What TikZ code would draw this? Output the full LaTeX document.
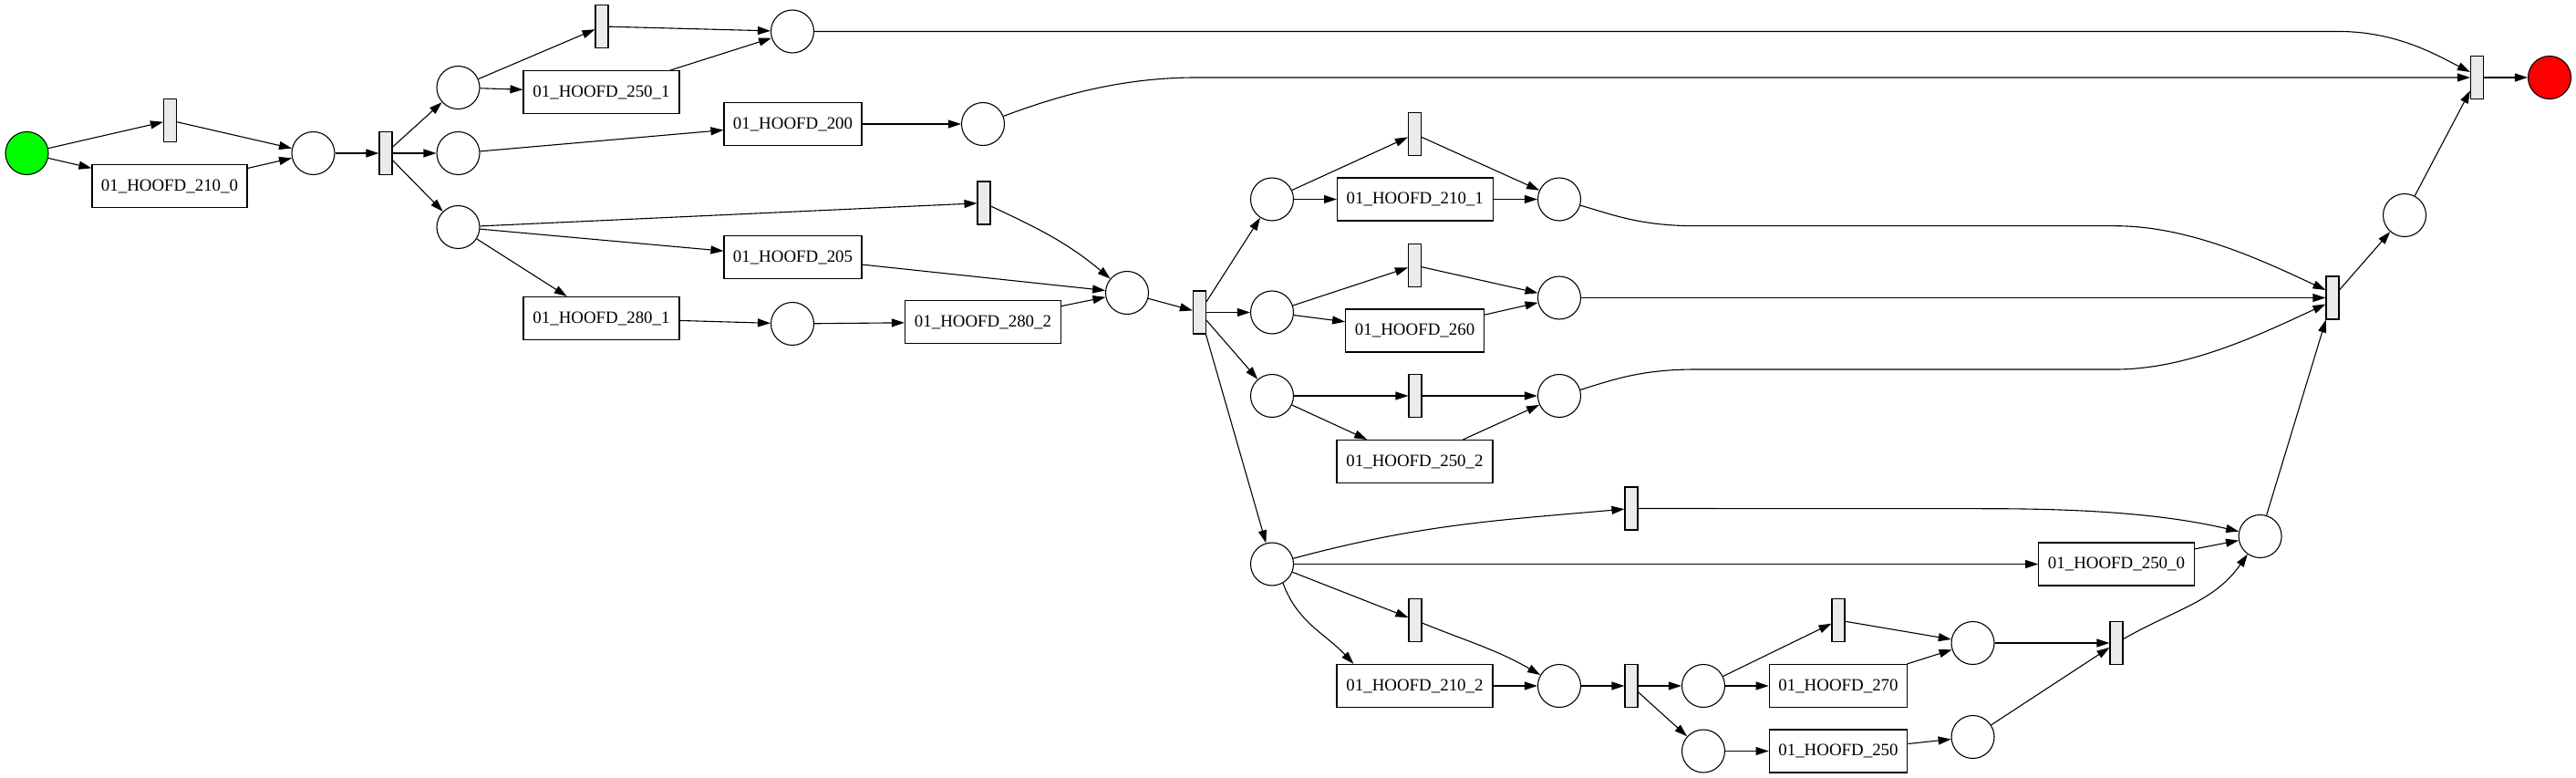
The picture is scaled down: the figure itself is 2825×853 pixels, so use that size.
\documentclass[tikz,border=0pt]{standalone}
\usepackage{fontspec}
\setmainfont{Liberation Serif}
\usetikzlibrary{arrows.meta}
\definecolor{tfill}{RGB}{235,235,235}
\definecolor{startg}{RGB}{0,255,0}
\definecolor{endr}{RGB}{255,0,0}
\begin{document}
\begin{tikzpicture}[x=1pt,y=1pt,
  place/.style={circle,draw,line width=1.1pt,minimum size=47pt,inner sep=0pt,fill=white},
  trans/.style={rectangle,draw,line width=1.1pt,fill=tfill,minimum width=14pt,minimum height=47pt,inner sep=0pt},
  act/.style={rectangle,draw,line width=1.1pt,fill=white,minimum height=47pt,inner sep=0pt,font=\fontsize{18.9}{22}\selectfont},
  arc/.style={line width=1.1pt,-{Triangle[length=14pt,width=9pt]}}]
\useasboundingbox (0,0) rectangle (2825,-853);
% nodes
\node[place,fill=startg] (start) at (29.5,-168) {};
\node[trans] (t1) at (186.5,-132) {};
\node[act,minimum width=170pt] (a2100) at (186,-204) {01\_HOOFD\_210\_0};
\node[place] (p1) at (343.5,-168) {};
\node[trans] (t2) at (423,-168) {};
\node[place] (p2) at (502.5,-96) {};
\node[place] (p3) at (502.5,-168) {};
\node[place] (p4) at (502.5,-249) {};
\node[trans] (t3) at (660,-29) {};
\node[act,minimum width=171pt] (a2501) at (659.5,-101) {01\_HOOFD\_250\_1};
\node[place] (p5) at (869,-34.5) {};
\node[act,minimum width=151pt] (a200) at (869.5,-136) {01\_HOOFD\_200};
\node[act,minimum width=151pt] (a205) at (869.5,-282) {01\_HOOFD\_205};
\node[act,minimum width=171pt] (a2801) at (659.5,-349) {01\_HOOFD\_280\_1};
\node[place] (p6) at (869,-355) {};
\node[place] (p7) at (1078,-136) {};
\node[trans] (t4) at (1079,-222.5) {};
\node[place] (p8) at (1236,-321) {};
\node[act,minimum width=171pt] (a2802) at (1078,-353) {01\_HOOFD\_280\_2};
\node[trans] (t5) at (1315.5,-342.5) {};
\node[place] (p9) at (1395,-218.5) {};
\node[trans] (t6) at (1551.5,-147) {};
\node[act,minimum width=170.5pt] (a2101) at (1551.8,-218.5) {01\_HOOFD\_210\_1};
\node[place] (p10) at (1710,-218.5) {};
\node[place] (p11) at (1395,-342.5) {};
\node[trans] (t7) at (1551.5,-291) {};
\node[act,minimum width=152pt] (a260) at (1551.6,-362.5) {01\_HOOFD\_260};
\node[place] (p12) at (1710,-326.5) {};
\node[place] (p14) at (1395,-434) {};
\node[trans] (t9) at (1552,-434) {};
\node[act,minimum width=171pt] (a2502) at (1551.5,-506) {01\_HOOFD\_250\_2};
\node[place] (p15) at (1710,-434) {};
\node[place] (p16) at (1395,-618.5) {};
\node[trans] (t10) at (1789,-557.5) {};
\node[act,minimum width=170.5pt] (a2500) at (2321,-618.5) {01\_HOOFD\_250\_0};
\node[place] (p17) at (2478.6,-588) {};
\node[trans] (t11) at (1552,-680) {};
\node[act,minimum width=171pt] (a2102) at (1551.5,-752) {01\_HOOFD\_210\_2};
\node[place] (p18) at (1710,-752) {};
\node[trans] (t12) at (1789,-752) {};
\node[place] (p19) at (1868,-752) {};
\node[trans] (t13) at (2016,-680) {};
\node[act,minimum width=151.5pt] (a270) at (2016,-752) {01\_HOOFD\_270};
\node[place] (p20) at (2163.5,-705) {};
\node[place] (p21) at (1868,-823.5) {};
\node[act,minimum width=151.5pt] (a250) at (2016,-823.5) {01\_HOOFD\_250};
\node[place] (p22) at (2163.5,-808) {};
\node[trans] (t14) at (2321,-705) {};
\node[trans] (t8) at (2558,-326.5) {};
\node[place] (p13) at (2637,-236) {};
\node[trans] (tend) at (2716.5,-85) {};
\node[place,fill=endr] (pend) at (2796,-85) {};
% arcs
\draw[arc] (start) -- (t1);
\draw[arc] (start) -- (a2100);
\draw[arc] (t1) -- (p1);
\draw[arc] (a2100) -- (p1);
\draw[arc] (p1) -- (t2);
\draw[arc] (t2) -- (p2);
\draw[arc] (t2) -- (p3);
\draw[arc] (t2) -- (p4);
\draw[arc] (p2) -- (t3);
\draw[arc] (p2) -- (a2501);
\draw[arc] (t3) -- (p5);
\draw[arc] (a2501) -- (p5);
\draw[arc] (p3) -- (a200);
\draw[arc] (a200) -- (p7);
\draw[arc] (p4) -- (t4);
\draw[arc] (p4) -- (a205);
\draw[arc] (p4) -- (a2801);
\draw[arc] (a2801) -- (p6);
\draw[arc] (p6) -- (a2802);
\draw[arc] (t4) to[out=-25,in=140] (p8);
\draw[arc] (a205) -- (p8);
\draw[arc] (a2802) -- (p8);
\draw[arc] (p8) -- (t5);
\draw[arc] (t5) -- (p9);
\draw[arc] (t5) -- (p11);
\draw[arc] (t5) -- (p14);
\draw[arc] (t5) -- (p16);
\draw[arc] (p9) -- (t6);
\draw[arc] (p9) -- (a2101);
\draw[arc] (t6) -- (p10);
\draw[arc] (a2101) -- (p10);
\draw[arc] (p11) -- (t7);
\draw[arc] (p11) -- (a260);
\draw[arc] (t7) -- (p12);
\draw[arc] (a260) -- (p12);
\draw[arc] (p14) -- (t9);
\draw[arc] (p14) -- (a2502);
\draw[arc] (t9) -- (p15);
\draw[arc] (a2502) -- (p15);
\draw[arc] (p10.-16) .. controls (1770,-236) and (1800,-247.7) .. (1860,-247.7) -- (2320,-247.7) .. controls (2400,-247.7) and (2480,-285) .. ([yshift=8.5pt]t8.west);
\draw[arc] (p12) -- (t8);
\draw[arc] (p15.16) .. controls (1770,-416) and (1800,-405) .. (1860,-405) -- (2320,-405) .. controls (2400,-405) and (2480,-366) .. ([yshift=-7pt]t8.west);
\draw[arc] (p16.15) to[out=15,in=185] (t10);
\draw[arc] (p16) -- (a2500);
\draw[arc] (p16) -- (t11);
\draw[arc] (p16.-60) to[out=-70,in=133] ([xshift=19pt]a2102.north west);
\draw[arc] (t10) -- (2180,-557.7) .. controls (2330,-557.7) and (2400,-570) .. (p17);
\draw[arc] (a2500) -- (p17);
\draw[arc] (t11) to[out=-22,in=150] (p18);
\draw[arc] (a2102) -- (p18);
\draw[arc] (p18) -- (t12);
\draw[arc] (t12) -- (p19);
\draw[arc] (t12) -- (p21);
\draw[arc] (p19) -- (t13);
\draw[arc] (p19) -- (a270);
\draw[arc] (t13) -- (p20);
\draw[arc] (a270) -- (p20);
\draw[arc] (p21) -- (a250);
\draw[arc] (a250) -- (p22);
\draw[arc] (p20) -- (t14);
\draw[arc] (p22) -- (t14);
\draw[arc] (t14) to[out=30,in=-125] (p17);
\draw[arc] (p17) -- (t8);
\draw[arc] (t8) -- (p13);
\draw[arc] (p13) -- (tend);
\draw[arc] (p5) -- (2565,-34.5) .. controls (2630,-34.5) and (2675,-62) .. ([yshift=6pt]tend.west);
\draw[arc] (p7.21) .. controls (1160,-105) and (1230,-85) .. (1312,-85) -- (tend);
\draw[arc] (tend) -- (pend);
\end{tikzpicture}
\end{document}
